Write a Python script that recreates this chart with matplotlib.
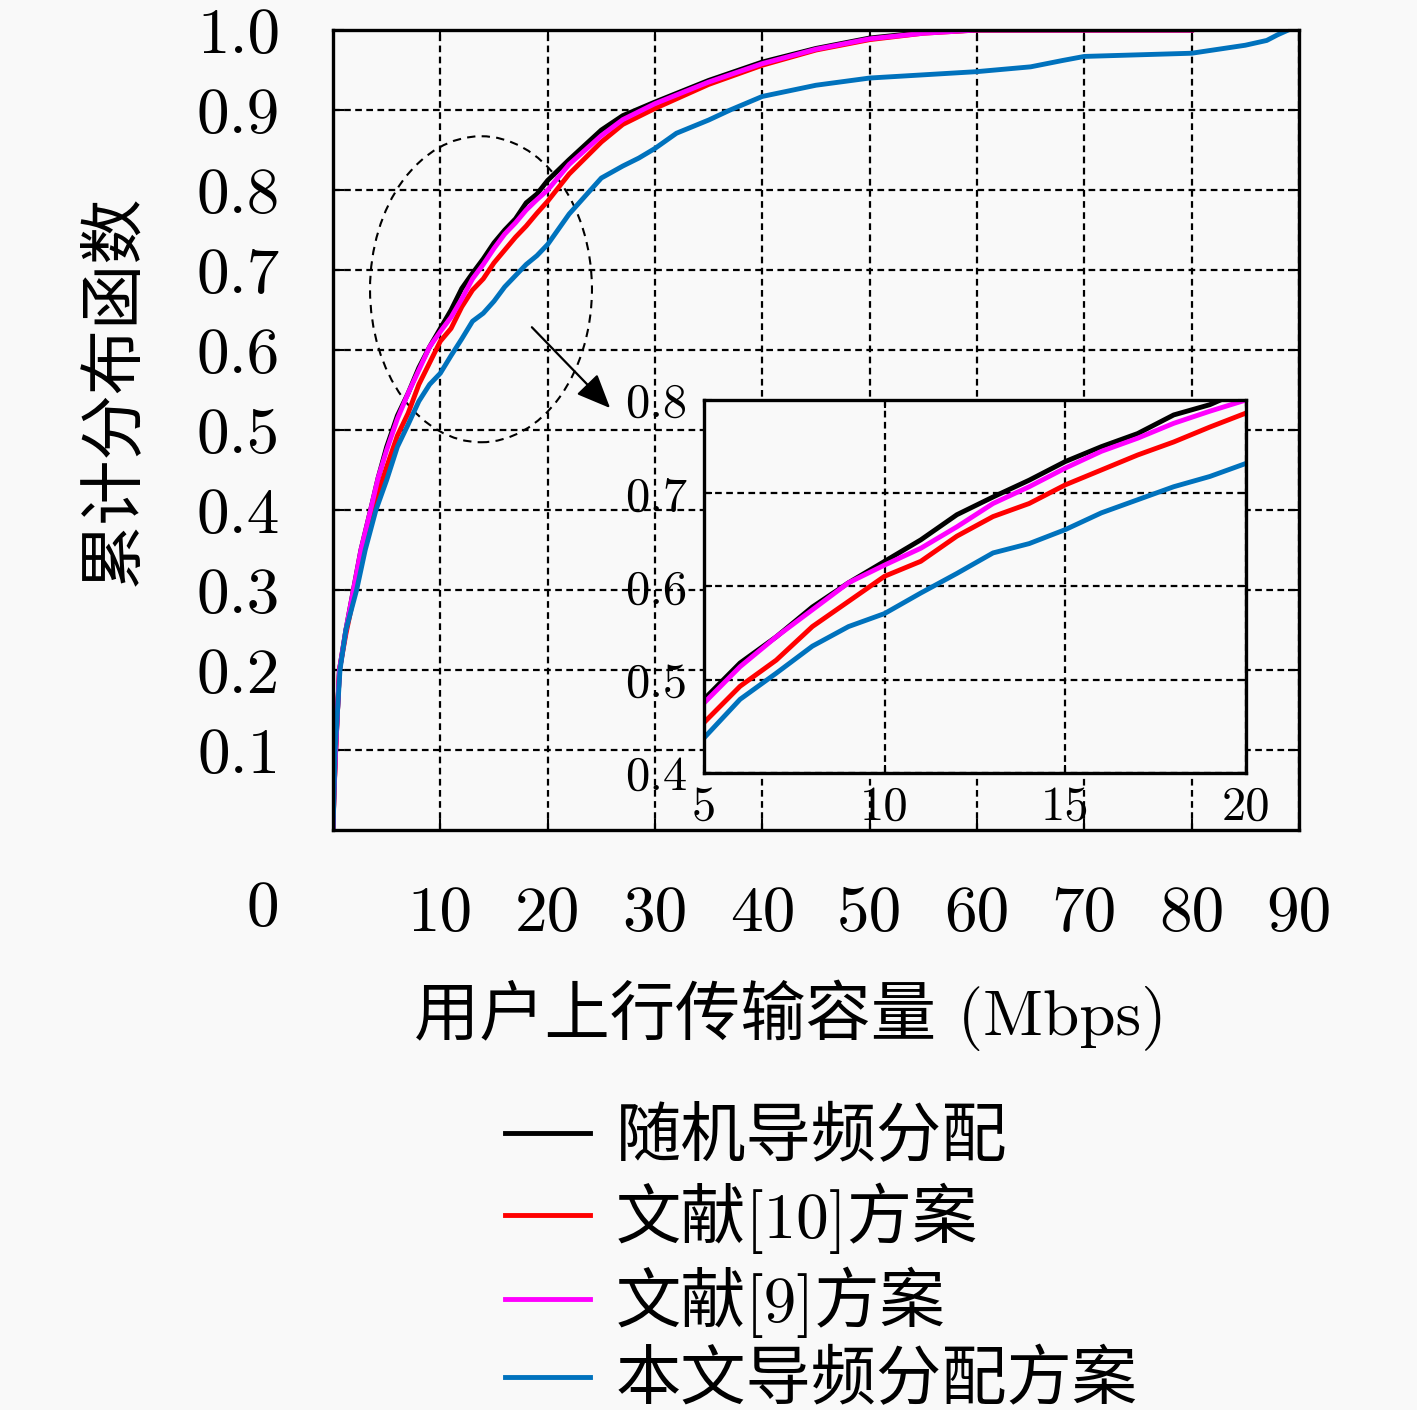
import matplotlib
matplotlib.use('Agg')
import matplotlib.pyplot as plt
from matplotlib.patches import Ellipse
from matplotlib.font_manager import FontProperties

# fonts: Computer Modern for numbers, Noto CJK for the Chinese glyphs
font_list = ['cmr10', 'Noto Sans CJK SC']
plt.rcParams['font.family'] = font_list
plt.rcParams['axes.formatter.use_mathtext'] = True

# data (uplink rate in Mbps vs CDF)
rate = [0, 0.1, 0.25, 0.6, 1.2, 1.9, 2.6, 3.5, 4.2, 5, 6, 7, 8, 9, 10, 11, 12, 13,
        14, 15, 16, 17, 18, 19, 20, 22, 25, 27, 30, 35, 40, 45, 50, 55, 60, 70, 80]
cdf_random = [0, 0.05, 0.1, 0.2, 0.25, 0.3, 0.35, 0.4, 0.44, 0.479, 0.518, 0.546,
              0.578, 0.604, 0.627, 0.65, 0.677, 0.696, 0.714, 0.734, 0.75, 0.764,
              0.784, 0.795, 0.812, 0.838, 0.875, 0.893, 0.910, 0.937, 0.960, 0.977,
              0.990, 0.997, 1.0, 1.0, 1.0]
cdf_ref10 = [0, 0.045, 0.1, 0.2, 0.245, 0.29, 0.335, 0.38, 0.42, 0.454, 0.493, 0.521,
             0.557, 0.584, 0.611, 0.627, 0.654, 0.675, 0.689, 0.709, 0.725, 0.741,
             0.755, 0.771, 0.786, 0.82, 0.86, 0.882, 0.902, 0.932, 0.956, 0.975,
             0.988, 0.996, 1.0, 1.0, 1.0]
cdf_ref9 = [0, 0.05, 0.1, 0.2, 0.25, 0.3, 0.35, 0.4, 0.44, 0.475, 0.514, 0.546,
            0.575, 0.604, 0.623, 0.641, 0.664, 0.689, 0.707, 0.727, 0.745, 0.759,
            0.775, 0.788, 0.80, 0.832, 0.868, 0.888, 0.908, 0.935, 0.958, 0.976,
            0.989, 0.996, 1.0, 1.0, 1.0]

rate_prop = [0, 0.2, 0.65, 1.2, 2.2, 3.0, 4.0, 5, 6, 7, 8, 9, 10, 11, 12, 13, 14, 15,
             16, 17, 18, 19, 20, 22, 24, 25, 27, 28.5, 30, 32, 35, 37, 40, 45, 50, 55,
             60, 65, 68, 70, 75, 80, 82, 85, 87, 88, 89]
cdf_prop = [0, 0.1, 0.2, 0.25, 0.3, 0.35, 0.4, 0.4375, 0.479, 0.507, 0.536, 0.557,
            0.571, 0.593, 0.614, 0.636, 0.646, 0.661, 0.679, 0.693, 0.707, 0.718,
            0.732, 0.77, 0.80, 0.815, 0.83, 0.84, 0.852, 0.871, 0.8875, 0.90, 0.917,
            0.931, 0.94, 0.944, 0.948, 0.954, 0.962, 0.967, 0.969, 0.971, 0.975,
            0.981, 0.987, 0.994, 1.0]

labels = ['随机导频分配', '文献[10]方案', '文献[9]方案', '本文导频分配方案']
colors = ['#000000', '#ff0000', '#ff00ff', '#0072bd']
xs_all = [rate, rate, rate, rate_prop]
ys_all = [cdf_random, cdf_ref10, cdf_ref9, cdf_prop]

main_xticks = [10, 20, 30, 40, 50, 60, 70, 80, 90]
main_yticks = [0.1, 0.2, 0.3, 0.4, 0.5, 0.6, 0.7, 0.8, 0.9, 1.0]
inset_xticks = [5, 10, 15, 20]
inset_yticks = [0.4, 0.5, 0.6, 0.7, 0.8]

bg = '#f9f9f9'
fig = plt.figure(figsize=(14.17, 14.10), dpi=100, facecolor=bg)

# main axes
ax = fig.add_axes([0.235, 0.4113, 0.6817, 0.5674])
ax.set_facecolor(bg)
lines = []
for x, y, c, lab in zip(xs_all, ys_all, colors, labels):
    l, = ax.plot(x, y, color=c, lw=3.5, label=lab)
    lines.append(l)

ax.set_xlim(0, 90)
ax.set_ylim(0, 1)
ax.set_xticks(main_xticks)
ax.set_xticklabels([str(t) for t in main_xticks])
ax.set_yticks(main_yticks)
ax.set_yticklabels(['%.1f' % t for t in main_yticks])
ax.tick_params(direction='in', length=8, width=1.5, top=True, right=True,
               labelsize=47)
ax.tick_params(axis='x', pad=40)
ax.tick_params(axis='y', pad=38)
ax.grid(True, ls=(0, (3, 2)), color='k', lw=1.6)
for s in ax.spines.values():
    s.set_linewidth(2.4)

# origin label sits oddly below-left, like the original
ax.annotate('0', xy=(0, 0), xycoords='data', xytext=(-50.4, -57.6),
            textcoords='offset points', ha='center', va='center', fontsize=47)

ax.set_xlabel('用户上行传输容量 (Mbps)', fontsize=47, va='center', ha='center')
ax.xaxis.set_label_coords(0.473, -0.231)
ax.set_ylabel('累计分布函数', fontsize=47, va='center', ha='center')
ax.yaxis.set_label_coords(-0.2257, 0.55)

# zoom ellipse and arrow
ell = Ellipse((13.79, 0.676), 20.68, 0.3825, fill=False, ec='k', lw=1.5,
              ls=(0, (4, 3)))
ax.add_patch(ell)
ax.annotate('', xy=(26.0, 0.525), xytext=(18.35, 0.631),
            arrowprops=dict(arrowstyle='-|>,head_length=0.7,head_width=0.3',
                            color='k', lw=1.6, mutation_scale=30))

# inset
axin = fig.add_axes([0.4968, 0.4518, 0.3825, 0.2645])
axin.set_facecolor(bg)
for x, y, c in zip(xs_all, ys_all, colors):
    axin.plot(x, y, color=c, lw=3.5)
axin.set_xlim(5, 20)
axin.set_ylim(0.4, 0.8)
axin.set_xticks(inset_xticks)
axin.set_xticklabels([str(t) for t in inset_xticks])
axin.set_yticks(inset_yticks)
axin.set_yticklabels(['%.1f' % t for t in inset_yticks])
axin.tick_params(direction='in', length=6, width=1.5, top=True, right=True,
                 labelsize=35)
axin.tick_params(axis='x', pad=9)
axin.tick_params(axis='y', pad=12)
axin.grid(True, ls=(0, (3, 2)), color='k', lw=1.6)
for s in axin.spines.values():
    s.set_linewidth(2.4)

# legend under the plot
fig.legend(handles=lines, labels=labels, loc='upper left',
           bbox_to_anchor=(505 / 1417, 1 - 1108 / 1410), frameon=False,
           prop=FontProperties(family=font_list, size=47),
           handlelength=1.3, handletextpad=0.4, labelspacing=0.2,
           borderpad=0, borderaxespad=0)

fig.savefig('out.png', dpi=100, facecolor=bg)
